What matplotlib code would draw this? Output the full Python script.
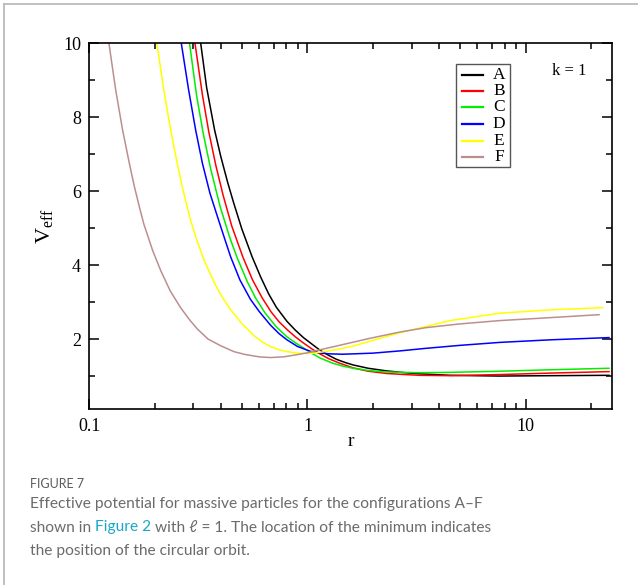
import matplotlib
matplotlib.use("Agg")
import matplotlib.pyplot as plt
from matplotlib.lines import Line2D
from matplotlib.patches import Rectangle
from matplotlib.ticker import LogLocator, FixedLocator, FixedFormatter, MultipleLocator

# effective potential, r and V_eff for each configuration
r_A = [0.324, 0.345, 0.375, 0.40, 0.43, 0.459, 0.50, 0.557, 0.61, 0.664, 0.72, 0.805, 0.88, 0.958,
       1.05, 1.14, 1.25, 1.36, 1.5, 1.62, 1.9, 2.3, 2.8, 3.27, 4.5, 7.6, 13, 24.1]
V_A = [10, 8.8, 7.66, 6.95, 6.25, 5.68, 4.98, 4.23, 3.68, 3.22, 2.86, 2.48, 2.24, 2.04,
       1.86, 1.70, 1.56, 1.45, 1.36, 1.30, 1.21, 1.14, 1.09, 1.06, 1.02, 1.0, 1.01, 1.02]

r_B = [0.305, 0.33, 0.353, 0.38, 0.41, 0.45, 0.507, 0.56, 0.619, 0.68, 0.74, 0.805, 0.88, 0.96,
       1.05, 1.14, 1.25, 1.4, 1.62, 1.9, 2.3, 2.8, 3.27, 4.5, 7.6, 13, 24.1]
V_B = [10, 8.6, 7.6, 6.7, 5.9, 5.05, 4.2, 3.6, 3.12, 2.74, 2.47, 2.26, 2.06, 1.89,
       1.73, 1.60, 1.47, 1.35, 1.22, 1.13, 1.07, 1.04, 1.02, 1.01, 1.04, 1.08, 1.12]

r_C = [0.288, 0.31, 0.333, 0.36, 0.397, 0.44, 0.476, 0.53, 0.577, 0.64, 0.72, 0.805, 0.88, 0.959,
       1.05, 1.14, 1.3, 1.45, 1.62, 1.9, 2.3, 3.27, 4.5, 7.6, 13, 24.1]
V_C = [10, 8.6, 7.55, 6.6, 5.6, 4.75, 4.2, 3.55, 3.12, 2.7, 2.33, 2.06, 1.9, 1.76,
       1.61, 1.49, 1.35, 1.27, 1.21, 1.15, 1.11, 1.09, 1.10, 1.13, 1.17, 1.21]

r_D = [0.264, 0.285, 0.307, 0.33, 0.357, 0.38, 0.41, 0.444, 0.49, 0.547, 0.6, 0.676, 0.74, 0.805,
       0.9, 1.03, 1.15, 1.27, 1.45, 1.62, 2.0, 2.65, 3.5, 5, 7.6, 13, 24.1]
V_D = [10, 8.75, 7.66, 6.75, 5.95, 5.45, 4.85, 4.23, 3.6, 3.08, 2.75, 2.38, 2.15, 1.98,
       1.80, 1.67, 1.62, 1.60, 1.59, 1.60, 1.62, 1.68, 1.75, 1.83, 1.91, 1.98, 2.04]

r_E = [0.204, 0.22, 0.236, 0.25, 0.267, 0.291, 0.31, 0.335, 0.372, 0.40, 0.444, 0.5, 0.567, 0.62,
       0.676, 0.74, 0.805, 0.9, 1.0, 1.065, 1.2, 1.4, 1.62, 1.9, 2.3, 2.65, 3.27, 4.5, 7.6, 13, 22.5]
V_E = [10, 8.7, 7.66, 6.9, 6.1, 5.22, 4.7, 4.15, 3.55, 3.2, 2.8, 2.42, 2.1, 1.92,
       1.80, 1.71, 1.66, 1.62, 1.61, 1.62, 1.66, 1.73, 1.81, 1.93, 2.07, 2.17, 2.30, 2.50, 2.70, 2.79, 2.85]

r_F = [0.123, 0.132, 0.142, 0.152, 0.1605, 0.17, 0.178, 0.195, 0.2125, 0.235, 0.262, 0.29, 0.313,
       0.35, 0.40, 0.46, 0.52, 0.6, 0.676, 0.78, 0.9, 1.0, 1.14, 1.4, 1.93, 2.65, 3.5, 5, 7.6, 13, 21.7]
V_F = [10, 8.75, 7.66, 6.8, 6.15, 5.55, 5.1, 4.4, 3.85, 3.3, 2.85, 2.5, 2.27,
       2.0, 1.82, 1.66, 1.58, 1.52, 1.50, 1.52, 1.58, 1.63, 1.71, 1.83, 2.02, 2.19, 2.31, 2.41, 2.50, 2.58, 2.66]

labels = ["A", "B", "C", "D", "E", "F"]
colors = ["black", "#ff0000", "#00ee00", "#0000ff", "#ffff00", "#bc8f8f"]

x_ticks = [0.1, 1, 10]
x_ticklabels = ["0.1", "1", "10"]
y_ticks = [2, 4, 6, 8, 10]

serif = ["Liberation Serif", "DejaVu Serif"]
sans = ["Lato", "DejaVu Sans"]

W, H = 638, 585
fig = plt.figure(figsize=(W / 100, H / 100), dpi=100)
ax = fig.add_axes([0.140, 0.3003, 0.820, 0.6257])


def fx(px):
    return px / W


def fy(py):
    return 1 - py / H


curves = [(r_A, V_A), (r_B, V_B), (r_C, V_C), (r_D, V_D), (r_E, V_E), (r_F, V_F)]
for (r, V), lab, col in zip(curves, labels, colors):
    ax.plot(r, V, color=col, lw=1.1, label=lab)

ax.set_xscale("log")
ax.set_xlim(0.1, 25)
ax.set_ylim(0.1, 10)

ax.xaxis.set_major_locator(FixedLocator(x_ticks))
ax.xaxis.set_major_formatter(FixedFormatter(x_ticklabels))
ax.xaxis.set_minor_locator(LogLocator(base=10, subs=range(2, 10)))
ax.xaxis.set_minor_formatter(FixedFormatter([]))
ax.yaxis.set_major_locator(FixedLocator(y_ticks))
ax.yaxis.set_minor_locator(MultipleLocator(1))

ax.tick_params(which="both", direction="in", top=True, right=True, width=1.1)
ax.tick_params(which="major", length=7, labelsize=13, pad=6)
ax.tick_params(which="minor", length=4.2)
for lbl in ax.get_xticklabels() + ax.get_yticklabels():
    lbl.set_family(serif)
for s in ax.spines.values():
    s.set_linewidth(1.2)

ax.set_xlabel("r", family=serif, fontsize=14, labelpad=-1)
ax.set_ylabel(r"$\mathregular{V_{eff}}$", family=serif, fontsize=16, labelpad=6)

# legend box drawn by hand to get the tight row spacing
fig.add_artist(Rectangle((fx(455.7), fy(167.3)), fx(510.3) - fx(455.7), fy(63.7) - fy(167.3),
                         transform=fig.transFigure, fill=False, edgecolor="#555555", lw=1.0))
row_y = [75, 90.7, 107.3, 124, 140.7, 156.7]
for yy, lab, col in zip(row_y, labels, colors):
    fig.add_artist(Line2D([fx(462.3), fx(483)], [fy(yy), fy(yy)], transform=fig.transFigure,
                          color=col, lw=1.6))
    fig.text(fx(499), fy(yy), lab, family=serif, fontsize=12.5, ha="center", va="center")

ax.text(0.917, 0.924, "k = 1", transform=ax.transAxes, ha="center", va="center",
        family=serif, fontsize=12)

# page frame
fig.add_artist(Line2D([fx(4), fx(4)], [0, fy(4)], transform=fig.transFigure, color="#b5b5b5", lw=1.2))
fig.add_artist(Line2D([fx(4), 1], [fy(4), fy(4)], transform=fig.transFigure, color="#b5b5b5", lw=1.2))

# caption
cap_col = "#6b6b6b"
cap_size = 11.2
x0 = fx(30)
fig.text(x0, fy(488), "FIGURE 7", family=sans, fontsize=9, color="#5a5a5a", va="baseline")
fig.text(x0, fy(508), "Effective potential for massive particles for the configurations A\u2013F",
         family=sans, fontsize=cap_size, color=cap_col, va="baseline")
t1 = fig.text(x0, fy(531.5), "shown in ", family=sans, fontsize=cap_size, color=cap_col, va="baseline")
fig.text(x0, fy(555), "the position of the circular orbit.", family=sans, fontsize=cap_size,
         color=cap_col, va="baseline")

fig.canvas.draw()
inv = fig.transFigure.inverted()
x1 = inv.transform(t1.get_window_extent().get_points())[1][0]
t2 = fig.text(x1, fy(531.5), "Figure 2", family=sans, fontsize=cap_size, color="#1aa6c9", va="baseline")
fig.canvas.draw()
x2 = inv.transform(t2.get_window_extent().get_points())[1][0]
fig.text(x2, fy(531.5), " with \u2113 = 1. The location of the minimum indicates", family=sans,
         fontsize=cap_size, color=cap_col, va="baseline")

fig.savefig("out.png", dpi=100)
